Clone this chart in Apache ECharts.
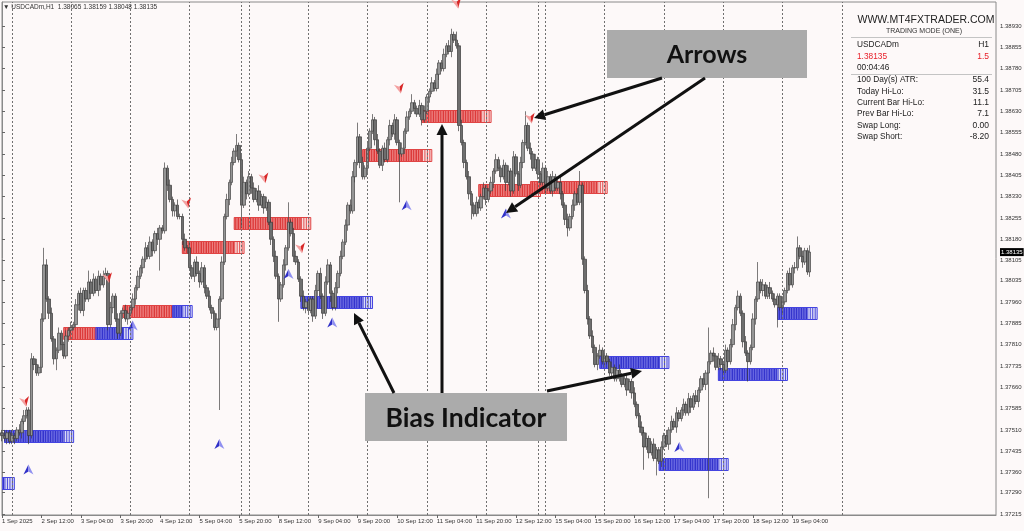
<!DOCTYPE html>
<html><head><meta charset="utf-8">
<script src="https://cdn.jsdelivr.net/npm/echarts@6/dist/echarts.min.js"></script>
<style>html,body{margin:0;padding:0;background:#fdf9f9;}#c{width:1024px;height:531px;}</style>
</head><body><div id="c"></div>
<script>
// ---------- DATA ----------
const firstOpen = 1.3750;
const closes = [
1.3749,1.3748,1.3750,1.3747,1.3749,1.3748,1.3751,1.3750,1.3754,1.3756,
1.3758,1.3749,1.3776,1.3774,1.3771,1.3773,1.3790,1.3809,1.3797,1.3792,
1.3783,1.3776,1.3779,1.3785,1.3781,1.3777,1.3784,1.3786,1.3787,1.3788,
1.3795,1.3799,1.3793,1.3800,1.3797,1.3803,1.3799,1.3804,1.3800,1.3805,
1.3802,1.3805,1.3806,1.3788,1.3794,1.3798,1.3790,1.3785,1.3792,1.3793,
1.3790,1.3792,1.3794,1.3797,1.3801,1.3805,1.3808,1.3811,1.3815,1.3812,
1.3817,1.3814,1.3820,1.3818,1.3822,1.3821,1.3843,1.3837,1.3832,1.3828,
1.3830,1.3826,1.3826,1.3818,1.3815,1.3815,1.3808,1.3805,1.3810,1.3806,
1.3803,1.3808,1.3801,1.3798,1.3794,1.3792,1.3787,1.3790,1.3797,1.3810,
1.3826,1.3832,1.3838,1.3845,1.3849,1.3851,1.3846,1.3830,1.3838,1.3834,
1.3840,1.3836,1.3832,1.3835,1.3830,1.3833,1.3829,1.3831,1.3824,1.3818,
1.3812,1.3805,1.3797,1.3802,1.3809,1.3815,1.3824,1.3820,1.3812,1.3810,
1.3804,1.3798,1.3794,1.3796,1.3793,1.3797,1.3791,1.3800,1.3806,1.3798,
1.3792,1.3803,1.3809,1.3799,1.3794,1.3801,1.3806,1.3812,1.3817,1.3823,
1.3830,1.3828,1.3840,1.3845,1.3854,1.3845,1.3840,1.3843,1.3850,1.3856,
1.3860,1.3853,1.3849,1.3844,1.3850,1.3846,1.3853,1.3858,1.3855,1.3860,
1.3852,1.3848,1.3850,1.3856,1.3861,1.3863,1.3866,1.3864,1.3862,1.3865,
1.3860,1.3863,1.3868,1.3870,1.3873,1.3871,1.3876,1.3880,1.3878,1.3883,
1.3886,1.3884,1.3890,1.3888,1.3886,1.3858,1.3852,1.3845,1.3840,1.3834,
1.3830,1.3827,1.3831,1.3829,1.3833,1.3836,1.3832,1.3835,1.3838,1.3842,
1.3846,1.3843,1.3840,1.3844,1.3838,1.3842,1.3835,1.3847,1.3841,1.3837,
1.3845,1.3852,1.3858,1.3850,1.3848,1.3843,1.3846,1.3841,1.3838,1.3843,
1.3836,1.3840,1.3835,1.3840,1.3836,1.3838,1.3834,1.3830,1.3825,1.3822,
1.3826,1.3830,1.3834,1.3831,1.3837,1.3811,1.3800,1.3790,1.3784,1.3780,
1.3774,1.3777,1.3779,1.3775,1.3777,1.3775,1.3771,1.3773,1.3769,1.3772,
1.3770,1.3767,1.3769,1.3765,1.3768,1.3764,1.3760,1.3756,1.3752,1.3750,
1.3745,1.3748,1.3743,1.3746,1.3741,1.3744,1.3740,1.3745,1.3749,1.3746,
1.3751,1.3754,1.3752,1.3757,1.3755,1.3758,1.3760,1.3757,1.3762,1.3759,
1.3763,1.3761,1.3765,1.3769,1.3767,1.3771,1.3775,1.3778,1.3777,1.3773,
1.3776,1.3774,1.3772,1.3779,1.3775,1.3781,1.3788,1.3794,1.3798,1.3792,
1.3782,1.3778,1.3775,1.3780,1.3790,1.3797,1.3803,1.3800,1.3802,1.3798,
1.3801,1.3799,1.3797,1.3795,1.3798,1.3794,1.3796,1.3800,1.3806,1.3802,
1.3808,1.3808,1.3815,1.3812,1.3810,1.3814,1.38065,1.38135
];
// wick lengths in pips (0.0001) above / below the body
const upWickPips = [
1,2,1,1,2,1,1,2,1,2, 1,1,2,1,2,1,2,6,2,1, 2,1,1,2,1,1,2,1,2,1, 2,1,2,1,1,4,1,2,1,2,
1,2,2,1,2,1,1,2,1,1, 2,1,1,2,1,2,1,1,2,1, 2,1,1,2,1,1,2,1,2,1, 1,2,1,1,2,1,2,1,1,2,
1,2,1,1,2,1,1,2,1,2, 1,2,1,2,1,4,1,2,2,1, 2,1,2,1,2,1,1,2,1,1, 1,2,1,1,2,1,7,1,2,2,
1,1,2,1,2,1,1,2,1,2, 1,2,2,1,1,2,1,2,1,2, 1,2,2,1,5,1,2,1,2,1, 2,1,2,1,1,2,1,2,1,2,
1,1,2,1,2,1,3,1,1,2, 1,2,1,1,2,1,2,1,1,2, 1,2,2,1,3,1,2,1,1,2, 1,1,2,1,1,2,1,1,2,1,
2,1,1,2,1,2,1,2,1,1, 2,1,5,1,2,1,2,1,1,2, 1,2,1,2,1,1,2,1,1,2, 1,2,1,2,5,1,1,2,1,2,
1,1,2,1,2,1,1,2,1,1, 2,1,1,2,1,1,2,1,1,2, 1,2,1,1,2,1,1,2,1,2, 1,2,1,2,1,1,2,1,2,1,
1,2,1,1,2,1,12,1,2,1, 2,1,1,2,1,2,2,1,2,1, 1,2,1,1,2,1,7,1,2,1, 1,2,1,2,1,1,2,1,1,2,
1,2,4,1,2,1,1,2.4
];
const downWickPips = [
2,1,2,1,1,2,1,1,2,1, 1,3,1,2,1,1,2,1,1,2, 1,2,4,1,2,1,1,2,1,1, 1,2,1,2,1,1,2,1,1,2,
2,1,1,2,1,2,1,2,1,2, 1,2,1,1,2,1,1,2,1,1, 1,2,1,2,11,1,1,2,1,2, 2,1,1,2,1,2,1,1,2,1,
2,1,2,1,1,2,1,1,32,1, 1,1,2,1,1,2,1,8,1,2, 1,2,1,1,2,1,2,1,1,2, 2,1,8,1,1,2,1,1,2,1,
1,2,1,2,1,1,2,1,2,1, 2,1,1,3,1,1,2,1,1,1, 2,1,1,2,1,2,1,1,2,1, 1,2,1,1,2,1,1,2,1,2,
1,17,1,2,1,1,1,2,1,1, 2,1,1,2,1,1,1,2,1,1, 1,1,2,1,1,2,1,2,1,2, 5,1,1,2,1,1,2,1,1,2,
1,1,2,1,3,1,2,1,1,2, 1,2,1,1,2,1,1,2,1,1, 2,1,1,2,1,1,2,1,2,3, 1,1,2,1,1,2,1,2,1,2,
1,2,1,1,2,1,1,2,1,1, 2,1,1,2,1,2,1,1,2,1, 8,1,2,1,1,6,1,2,1,1, 2,1,1,2,1,1,2,1,1,2,
1,1,2,1,1,2,44,1,2,1, 1,2,1,1,2,1,1,2,1,1, 2,1,7,1,1,2,1,1,2,1, 1,2,1,1,8,1,2,1,1,2,
1,2,1,1,2,1,1,1.7
];
// Bias indicator boxes (bar index start/end, price level, bars before this index are red)
const boxStart   = [-23, 1, 25, 49, 73, 94, 121, 146, 170, 193, 214, 242, 266, 290, 314];
const boxEnd     = [5, 29, 53, 77, 98, 125, 150, 174, 198, 218, 245, 270, 294, 318, 330];
const boxLevel   = [1.37324,1.37487,1.37850,1.37928,1.38154,1.38238,1.37961,1.38476,1.38614,1.38354,1.38363,1.37749,1.37392,1.37708,1.37922];
const boxRedUntil= [-23, 1, 38, 69, 98, 125, 121, 174, 198, 218, 245, 242, 266, 290, 314];
// signal arrows
const sellArrowIdx   = [9.3, 42.9, 74.9, 106.2, 121, 161, 184.2, 214];
const sellArrowPrice = [1.37610, 1.38045, 1.38308, 1.38396, 1.38150, 1.38711, 1.39010, 1.38606];
const buyArrowIdx    = [10.7, 52.9, 88, 116, 133.7, 163.8, 204, 274.2];
const buyArrowPrice  = [1.37369, 1.37875, 1.37459, 1.38056, 1.37886, 1.38298, 1.38269, 1.37448];
// day separators (bar index)
const daySepIdx = [4,28,52,76,97,100,124,148,172,196,217,220,244,268,292,316,340];
// axis ticks
const xTickIdx = [0,16,32,48,64,80,96,112,128,144,160,176,192,208,224,240,256,272,288,304,320];
const xTickLabels = ['1 Sep 2025','2 Sep 12:00','3 Sep 04:00','3 Sep 20:00','4 Sep 12:00','5 Sep 04:00','5 Sep 20:00','8 Sep 12:00','9 Sep 04:00','9 Sep 20:00','10 Sep 12:00','11 Sep 04:00','11 Sep 20:00','12 Sep 12:00','15 Sep 04:00','15 Sep 20:00','16 Sep 12:00','17 Sep 04:00','17 Sep 20:00','18 Sep 12:00','19 Sep 04:00'];
const yTickPrices = [1.37215,1.37290,1.37360,1.37435,1.37510,1.37585,1.37660,1.37735,1.37810,1.37885,1.37960,1.38035,1.38105,1.38180,1.38255,1.38330,1.38405,1.38480,1.38555,1.38630,1.38705,1.38780,1.38855,1.38930];
const currentPrice = 1.38135;
const headerText = '▼ USDCADm,H1  1.38065 1.38159 1.38048 1.38135';
const panelLeft  = ['USDCADm','1.38135','00:04:46','100 Day(s) ATR:','Today Hi-Lo:','Current Bar Hi-Lo:','Prev Bar Hi-Lo:','Swap Long:','Swap Short:'];
const panelRight = ['H1','1.5','','55.4','31.5','11.1','7.1','0.00','-8.20'];

// ---------- BUILD ----------
const PIP = 0.0001;
const candles = closes.map((c, i) => {
  const o = i === 0 ? firstOpen : closes[i - 1];
  const h = Math.max(o, c) + upWickPips[i] * PIP;
  const l = Math.min(o, c) - downWickPips[i] * PIP;
  return [i, o, c, l, h];
});
const boxes = boxStart.map((s, k) => [s, boxEnd[k], boxLevel[k], boxRedUntil[k]]);

const chart = echarts.init(document.getElementById('c'), null, {renderer: 'canvas'});

function renderBox(params, api) {
  const s = api.value(0), e = api.value(1), lvl = api.value(2), ru = api.value(3);
  const cs = params.coordSys;
  const H = 12;
  const yc = api.coord([0, lvl])[1];
  const y0 = Math.round(yc - H / 2) + 0.5;
  const X = (v) => api.coord([v, lvl])[0];
  const ch = [];
  const tailStart = e - 4;
  for (let j = s; j < e; j++) {
    let xa = X(j), xb = X(j + 1);
    if (xb <= cs.x) continue;
    xa = Math.max(xa, cs.x);
    const red = j < ru, tail = j >= tailStart;
    const fill = tail ? (red ? '#f9dede' : '#dcdcf7') : (red ? '#dc3a3a' : '#3434cc');
    const stripe = tail ? (red ? '#e04c4c' : '#4848d8') : (red ? '#ee8282' : '#6a6ae4');
    ch.push({type: 'rect', shape: {x: xa, y: y0, width: xb - xa, height: H}, style: {fill: fill}});
    ch.push({type: 'rect', shape: {x: xa, y: y0, width: 1, height: H}, style: {fill: stripe}});
  }
  const segs = [];
  if (ru > s) segs.push([s, Math.min(ru, e), '#e04444']);
  if (ru < e) segs.push([Math.max(ru, s), e, '#4444e0']);
  segs.forEach(sg => {
    const xa = Math.max(X(sg[0]), cs.x), xb = X(sg[1]);
    if (xb > xa) ch.push({type: 'rect', shape: {x: xa, y: y0, width: xb - xa, height: H}, style: {fill: null, stroke: sg[2], lineWidth: 1}});
  });
  return {type: 'group', children: ch};
}

function arrowPoly(cx, cy, dx, dy) {
  const s = dx, c = -dy;
  return [[0, -5.5], [-5, 4.5], [0, 1.5], [5, 4.5]].map(p => [cx + c * p[0] - s * p[1], cy + s * p[0] + c * p[1]]);
}
function renderSignal(dark, light, dirx, diry) {
  return function (params, api) {
    const p = api.coord([api.value(0), api.value(1)]);
    const pts = arrowPoly(p[0], p[1], dirx, diry);
    return {type: 'group', children: [
      {type: 'polygon', shape: {points: [pts[0], pts[1], pts[2]]}, style: {fill: dark}},
      {type: 'polygon', shape: {points: [pts[0], pts[2], pts[3]]}, style: {fill: light}}
    ]};
  };
}

function annArrow(x1, y1, x2, y2) {
  const L = Math.hypot(x2 - x1, y2 - y1), ux = (x2 - x1) / L, uy = (y2 - y1) / L;
  const hl = 11, hw = 5.5;
  const bx = x2 - ux * hl, by = y2 - uy * hl;
  return [
    {type: 'line', shape: {x1: x1, y1: y1, x2: bx, y2: by}, style: {stroke: '#111', lineWidth: 3}, z: 100},
    {type: 'polygon', shape: {points: [[x2, y2], [bx - uy * hw, by + ux * hw], [bx + uy * hw, by - ux * hw]]}, style: {fill: '#111'}, z: 100}
  ];
}

const fontUI = '"Liberation Sans", Arial, sans-serif';
const graphics = [];
graphics.push({type: 'text', left: 3, top: 4, z: 50, style: {text: headerText, font: '6.5px ' + fontUI, fill: '#333'}});
graphics.push({type: 'text', x: 926, y: 20, z: 50, style: {text: 'WWW.MT4FXTRADER.COM', font: '10.5px ' + fontUI, fill: '#222', align: 'center', verticalAlign: 'middle'}});
graphics.push({type: 'text', x: 924, y: 31, z: 50, style: {text: 'TRADING MODE (ONE)', font: '7px ' + fontUI, fill: '#333', align: 'center', verticalAlign: 'middle'}});
graphics.push({type: 'line', z: 50, shape: {x1: 851, y1: 37.5, x2: 992, y2: 37.5}, style: {stroke: '#c4c4c4', lineWidth: 1}});
graphics.push({type: 'line', z: 50, shape: {x1: 851, y1: 74.5, x2: 992, y2: 74.5}, style: {stroke: '#c4c4c4', lineWidth: 1}});
const panelY = [45, 56.5, 68, 80, 91.5, 102.5, 114, 125.5, 137];
panelLeft.forEach((t, k) => {
  const col = k === 1 ? '#e8202a' : '#222';
  graphics.push({type: 'text', x: 857, y: panelY[k], z: 50, style: {text: t, font: '8.3px ' + fontUI, fill: col, verticalAlign: 'middle'}});
  if (panelRight[k]) graphics.push({type: 'text', x: 989, y: panelY[k], z: 50, style: {text: panelRight[k], font: '8.5px ' + fontUI, fill: col, align: 'right', verticalAlign: 'middle'}});
});
graphics.push({type: 'rect', z: 90, shape: {x: 607, y: 30, width: 200, height: 48}, style: {fill: '#ababab'}});
graphics.push({type: 'text', z: 91, x: 707, y: 55, style: {text: 'Arrows', font: 'bold 25px Lato, "Open Sans", sans-serif', fill: '#111', align: 'center', verticalAlign: 'middle'}});
graphics.push({type: 'rect', z: 90, shape: {x: 365, y: 393, width: 202, height: 48}, style: {fill: '#ababab'}});
graphics.push({type: 'text', z: 91, x: 466, y: 418, style: {text: 'Bias Indicator', font: 'bold 26.5px Lato, "Open Sans", sans-serif', fill: '#111', align: 'center', verticalAlign: 'middle'}});
[[662, 78, 534, 118], [705, 78, 506, 213], [394, 393, 354, 313], [442, 393, 442, 124], [547, 391, 642, 371]]
  .forEach(a => annArrow(a[0], a[1], a[2], a[3]).forEach(g => graphics.push(g)));

const option = {
  backgroundColor: '#fdf9f9',
  animation: false,
  graphic: graphics,
  grid: {left: 2, right: 28, top: 2, bottom: 16, outerBoundsMode: 'none', containLabel: false, show: true, borderColor: '#8a8a8a', borderWidth: 1, backgroundColor: 'transparent'},
  xAxis: {
    type: 'value', min: 0, max: 402.4, splitLine: {show: false},
    axisLine: {show: true, onZero: false, lineStyle: {color: '#8a8a8a'}},
    axisTick: {show: true, length: 3, customValues: xTickIdx, lineStyle: {color: '#666'}},
    axisLabel: {customValues: xTickIdx, formatter: v => xTickLabels[xTickIdx.indexOf(v)] || '', fontSize: 6, color: '#333', align: 'left', margin: 3, hideOverlap: false, fontFamily: fontUI}
  },
  yAxis: {
    type: 'value', position: 'right', min: 1.37211, max: 1.39014, scale: true, splitLine: {show: false},
    axisLine: {show: true, lineStyle: {color: '#8a8a8a'}},
    axisTick: {show: true, length: 3, customValues: yTickPrices, lineStyle: {color: '#666'}},
    axisLabel: {
      customValues: yTickPrices.concat([currentPrice]).sort((a, b) => a - b),
      formatter: v => Math.abs(v - currentPrice) < 1e-7 ? '{cur|' + v.toFixed(5) + '}' : v.toFixed(5),
      fontSize: 6, color: '#333', margin: 4, hideOverlap: false, fontFamily: fontUI,
      rich: {cur: {backgroundColor: '#000', color: '#fff', fontSize: 6, padding: [1, 1, 1, 1], fontFamily: fontUI}}
    }
  },
  series: [
    {type: 'line', data: [], z: 1, silent: true,
      markLine: {silent: true, symbol: ['none', 'none'], label: {show: false}, animation: false,
        lineStyle: {color: '#707070', width: 1, type: [2, 2]},
        data: daySepIdx.map(v => ({xAxis: v}))}},
    {type: 'custom', z: 2, clip: true, renderItem: renderBox, data: boxes, silent: true},
    {type: 'candlestick', z: 3, data: candles, encode: {x: 0, y: [1, 2, 3, 4]}, barWidth: 3,
      itemStyle: {color: '#959595', color0: '#6e6e6e', borderColor: '#454545', borderColor0: '#3a3a3a', borderWidth: 0.7}},
    {type: 'custom', z: 4, clip: false, renderItem: renderSignal('#d82828', '#f4a0a0', 0.2, 0.98),
      data: sellArrowIdx.map((x, k) => [x, sellArrowPrice[k]])},
    {type: 'custom', z: 4, clip: false, renderItem: renderSignal('#3030c8', '#9090f0', 0, -1),
      data: buyArrowIdx.map((x, k) => [x, buyArrowPrice[k]])}
  ]
};
chart.setOption(option);
</script></body></html>
